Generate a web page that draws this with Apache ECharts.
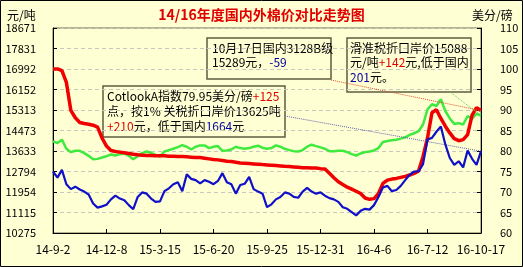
<!DOCTYPE html>
<html><head><meta charset="utf-8">
<script src="https://cdn.jsdelivr.net/npm/echarts@6/dist/echarts.min.js"></script>
<style>html,body{margin:0;padding:0;background:#FFFFD4}#c{width:523px;height:267px}</style>
</head><body><div id="c"></div>
<script>
// tick labels
const xTickLabels = ['14-9-2','14-12-8','15-3-15','15-6-20','15-9-25','15-12-31','16-4-6','16-7-12','16-10-17'];
const leftTicks = [10275,11115,11954,12794,13633,14473,15313,16152,16992,17831,18671];
const rightTicks = [60,65,70,75,80,85,90,95,100,105,110];

// 国内3128B级 (元/吨, left axis)
const domestic = [16996,16996,16927,16444,15298,14995,14801,14760,14732,14691,14608,14167,13835,13656,13615,13587,13559,13532,13504,13477,13463,13449,13449,13435,13435,13435,13421,13421,13408,13408,13394,13380,13366,13366,13339,13311,13283,13270,13242,13214,13201,13173,13145,13132,13118,13104,13090,13076,13063,13049,13035,13021,13007,12994,12980,12966,12952,12952,12938,12938,12911,12897,12718,12538,12373,12262,12152,12069,11986,11890,11710,11655,11683,11890,12304,12442,12483,12511,12552,12593,12649,12718,12814,13408,14167,15202,15326,14967,14650,14374,14139,14056,14098,14305,15105,15409,15289];
// 滑准税折口岸价 (元/吨, left axis)
const slidingImport = [14029,13960,14098,13725,13587,13642,13642,13546,13435,13297,13311,13366,13421,13490,13449,13504,13532,13435,13297,13421,13546,13615,13559,13477,13408,13615,13670,13725,13794,13877,13808,13697,13808,13863,13863,13753,13808,13835,13642,13656,13697,13808,13753,13725,13753,13808,13849,13766,13725,13753,13863,13808,13725,13670,13628,13615,13670,13808,13891,13835,13780,13725,13628,13628,13642,13642,13587,13504,13449,13532,13587,13615,13656,13753,14001,14042,14070,14098,14139,14194,14291,14360,14443,14719,15340,15547,15478,15754,15271,14967,14746,14774,14719,15064,14953,15160,15088];
// Cotlook A 指数 (美分/磅, right axis)
const cotlookA = [75.0,73.5,75.4,71.9,70.7,71.3,70.6,70.1,69.4,67.2,66.2,66.5,66.9,68.2,69.1,68.4,68.0,66.8,65.8,68.8,69.9,69.6,68.4,67.6,67.7,70.2,70.9,71.9,72.4,70.2,74.3,73.2,72.9,72.1,72.9,72.5,71.9,72.7,74.6,72.4,71.9,69.6,71.7,72.0,73.7,70.7,70.1,69.6,66.3,67.0,68.2,68.8,69.9,69.6,68.8,68.6,70.1,71.0,70.1,69.6,69.9,69.1,68.5,68.2,67.6,66.3,65.9,65.1,64.3,65.4,65.9,65.7,66.8,68.8,71.1,71.5,70.2,70.5,71.5,72.9,74.2,75.0,75.0,76.8,82.8,83.2,84.7,86.0,81.6,78.3,76.6,77.5,76.0,80.1,78.1,76.6,79.95];

const categories = domestic.map((_, i) => String(i));
const labelStep = 12;
const lastIdx = categories.length - 1;

const FONT = '"Noto Sans CJK SC", "Noto Sans", sans-serif';
const BG = '#FFFFD4';

function box(x, y, w, h, tx, ty, lh, text) {
  return {
    type: 'group', z: 100,
    children: [
      { type: 'rect', shape: { x: x, y: y, width: w, height: h },
        style: { fill: BG, stroke: '#5e5e40', lineWidth: 1.5 } },
      { type: 'text', x: tx, y: ty,
        style: { text: text, fontSize: 12, fontFamily: FONT, fill: '#000', lineHeight: lh,
          rich: {
            r: { fill: '#E00000', fontSize: 12, fontFamily: FONT, lineHeight: lh },
            b: { fill: '#0000A0', fontSize: 12, fontFamily: FONT, lineHeight: lh }
          } } }
    ]
  };
}

const chart = echarts.init(document.getElementById('c'), null, { renderer: 'canvas' });
chart.setOption({
  backgroundColor: BG,
  animation: false,
  title: {
    text: '14/16年度国内外棉价对比走势图', left: 'center', top: 3,
    textStyle: { color: '#E00000', fontSize: 14, fontWeight: 'bold', fontFamily: FONT }
  },
  grid: { left: 53, right: 42, top: 28, bottom: 34, show: true, borderColor: '#6b6b4b', borderWidth: 1, backgroundColor: 'transparent' },
  xAxis: {
    type: 'category', data: categories, boundaryGap: false,
    axisLine: { lineStyle: { color: '#000', width: 1 } },
    axisTick: { inside: true, length: 4, interval: labelStep - 1, lineStyle: { color: '#000' } },
    axisLabel: { interval: labelStep - 1, margin: 10, color: '#000', fontSize: 12, fontFamily: FONT,
      formatter: (v, i) => (i % labelStep === 0 ? xTickLabels[i / labelStep] : '') },
    splitLine: { show: false }
  },
  yAxis: [
    { type: 'value', position: 'left', min: leftTicks[0], max: leftTicks[leftTicks.length - 1],
      interval: (leftTicks[leftTicks.length - 1] - leftTicks[0]) / (leftTicks.length - 1),
      axisLine: { show: true, lineStyle: { color: '#000' } },
      axisTick: { show: true, inside: true, length: 4, lineStyle: { color: '#000' } },
      axisLabel: { margin: 17, color: '#000', fontSize: 11, fontFamily: FONT, showMaxLabel: true, showMinLabel: true,
        formatter: v => leftTicks[Math.round((v - leftTicks[0]) / ((leftTicks[leftTicks.length - 1] - leftTicks[0]) / (leftTicks.length - 1)))] },
      splitLine: { show: true, lineStyle: { color: '#C8C8C0', type: [4, 3], width: 1 } }
    },
    { type: 'value', position: 'right', min: rightTicks[0], max: rightTicks[rightTicks.length - 1], interval: 5,
      axisLine: { show: true, lineStyle: { color: '#000' } },
      axisTick: { show: true, inside: true, length: 4, lineStyle: { color: '#000' } },
      axisLabel: { margin: 19, color: '#000', fontSize: 11, fontFamily: FONT, showMaxLabel: true,
        formatter: v => String(rightTicks[Math.round((v - rightTicks[0]) / 5)]) },
      splitLine: { show: false }
    }
  ],
  series: [
    { name: '滑准税折口岸价', type: 'line', data: slidingImport, yAxisIndex: 0, showSymbol: false, symbol: 'none',
      lineStyle: { color: '#3FEA3F', width: 2.5 }, itemStyle: { color: '#3FEA3F' }, z: 3,
      markLine: { silent: true, symbol: ['none', 'none'], label: { show: false }, animation: false,
        lineStyle: { color: '#50D050', type: 'dotted', width: 1 },
        data: [[{ x: 450, y: 92 }, { coord: [categories[lastIdx], slidingImport[lastIdx]] }]] } },
    { name: '国内3128B级', type: 'line', data: domestic, yAxisIndex: 0, showSymbol: false, symbol: 'none',
      lineStyle: { color: '#F00000', width: 3.5 }, itemStyle: { color: '#F00000' }, z: 4,
      markLine: { silent: true, symbol: ['none', 'none'], label: { show: false }, animation: false,
        lineStyle: { color: '#E05030', type: 'dotted', width: 1 },
        data: [[{ x: 331, y: 80 }, { coord: [categories[lastIdx], domestic[lastIdx]] }]] } },
    { name: 'CotlookA指数', type: 'line', data: cotlookA, yAxisIndex: 1, showSymbol: false, symbol: 'none',
      lineStyle: { color: '#1010C8', width: 2.2 }, itemStyle: { color: '#1010C8' }, z: 5,
      markLine: { silent: true, symbol: ['none', 'none'], label: { show: false }, animation: false,
        lineStyle: { color: '#6060B0', type: 'dotted', width: 1 },
        data: [[{ x: 285, y: 116 }, { coord: [categories[lastIdx], cotlookA[lastIdx]] }]] } }
  ],
  graphic: [
    { type: 'rect', shape: { x: 0.5, y: 0.5, width: 522, height: 266 }, style: { fill: 'none', stroke: '#000', lineWidth: 1 }, z: 200 },
    { type: 'text', x: 7, y: 9, style: { text: '元/吨', fontSize: 12, fontFamily: FONT, fill: '#000' } },
    { type: 'text', x: 472, y: 9, style: { text: '美分/磅', fontSize: 12, fontFamily: FONT, fill: '#000' } },
    box(207, 38, 124, 41, 212, 41, 14, '10月17日国内3128B级\n15289元，{b|-59}'),
    box(347, 38, 124, 54, 350, 41, 14.5, '滑准税折口岸价15088\n元/吨{r|+142}元,低于国内\n{b|201}元。'),
    box(103, 86, 182, 51, 107, 88.5, 15, 'CotlookA指数79.95美分/磅{r|+125}\n点，按1% 关税折口岸价13625吨\n{r|+210}元，低于国内{b|1664}元')
  ]
});
</script>
</body></html>
